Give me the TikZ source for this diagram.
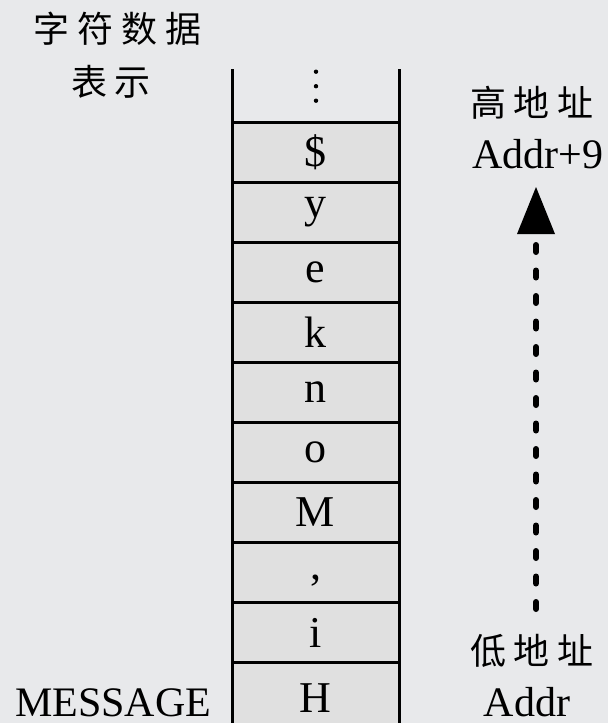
\documentclass[tikz,border=0pt]{standalone}
\usepackage{fontspec}
\setmainfont{Liberation Serif}
\newfontfamily\cjk{Noto Sans CJK SC}
\usetikzlibrary{arrows.meta}
\definecolor{bggray}{HTML}{E8E9EB}
\definecolor{cellgray}{HTML}{E0E0E0}
\newcommand\cjkgap{\hspace{8pt}}
\begin{document}
\begin{tikzpicture}[x=1pt,y=-1pt,
  cellbox/.style={draw=black, line width=3pt, fill=cellgray, minimum width=167pt,
    minimum height=60pt, inner sep=0pt, anchor=north, font=\fontsize{44}{44}\selectfont},
  cjklabel/.style={inner sep=0pt, anchor=center, font=\cjk\fontsize{36}{36}\selectfont},
  latinlabel/.style={inner sep=0pt, anchor=base, font=\fontsize{42}{42}\selectfont},
  wall/.style={line width=3pt},
  dotarrow/.style={line width=6pt, line cap=round, dash pattern=on 7pt off 18.5pt,
    -{Triangle[width=38pt,length=47pt,line width=0pt]}}]
\useasboundingbox (0,0) rectangle (608,723);
\clip (0,0) rectangle (608,723);
\fill[bggray] (0,0) rectangle (608,723);

% memory cells
\node[cellbox] (c9) at (315.5,121) {\$};
\node[cellbox] (c8) at (315.5,181) {y};
\node[cellbox] (c7) at (315.5,241) {e};
\node[cellbox] (c6) at (315.5,301) {k};
\node[cellbox] (c5) at (315.5,361) {n};
\node[cellbox] (c4) at (315.5,421) {o};
\node[cellbox] (c3) at (315.5,481) {M};
\node[cellbox, text height=14pt, text depth=0pt] (c2) at (315.5,541) {,};
\node[cellbox] (c1) at (315.5,601) {i};
\node[cellbox, minimum height=72pt] (c0) at (315.5,661) {H};

% side walls
\coordinate (wlt) at (232,69);
\coordinate (wlb) at (232,730);
\coordinate (wrt) at (399,69);
\coordinate (wrb) at (399,730);
\draw[wall] (wlt) -- (wlb);
\draw[wall] (wrt) -- (wrb);

% ellipsis
\fill (316,71.7) circle (2.2pt);
\fill (316,86.2) circle (2.2pt);
\fill (316,100.7) circle (2.2pt);

% labels
\node[cjklabel] (title1) at (118,29) {字\cjkgap 符\cjkgap 数\cjkgap 据};
\node[cjklabel] (title2) at (111,82) {表\cjkgap 示};
\node[cjklabel] (high) at (532,103) {高\cjkgap 地\cjkgap 址};
\node[latinlabel] (highaddr) at (537.5,168) {Addr+9};
\node[cjklabel] (low) at (532,651) {低\cjkgap 地\cjkgap 址};
\node[latinlabel] (lowaddr) at (527,716) {Addr};
\node[latinlabel, anchor=base west] (msg) at (15,716) {MESSAGE};

% address arrow
\coordinate (lowA) at (536,609);
\coordinate (highA) at (536,187);
\draw[dotarrow] (lowA) -- (highA);
\end{tikzpicture}
\end{document}
